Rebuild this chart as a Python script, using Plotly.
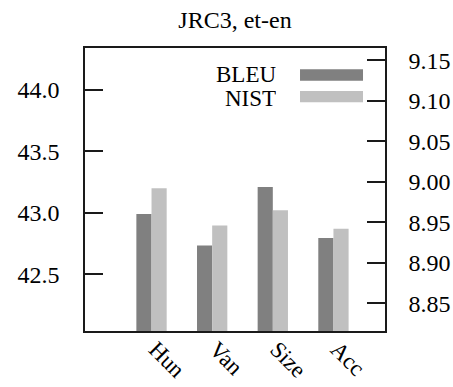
import plotly.graph_objects as go

# Systems compared and their scores
systems = ["Hun", "Van", "Size", "Acc"]
bleu = [42.99, 42.735, 43.21, 42.795]
nist = [8.992, 8.946, 8.965, 8.942]

series_names = ["BLEU", "NIST"]
series_colors = ["#808080", "#c0c0c0"]

bleu_ticks = [42.5, 43.0, 43.5, 44.0]
nist_ticks = [8.85, 8.90, 8.95, 9.00, 9.05, 9.10, 9.15]

title_text = "JRC3, et-en"

FONT = "Liberation Serif"
AXIS_COLOR = "#1a1a1a"
BAR_W = 0.25

xs = list(range(len(systems)))

fig = go.Figure()
fig.add_trace(go.Bar(
    x=xs, y=bleu, name=series_names[0], yaxis="y",
    width=BAR_W, offset=-BAR_W, marker=dict(color=series_colors[0], line=dict(width=0)),
    showlegend=False,
))
fig.add_trace(go.Bar(
    x=xs, y=nist, name=series_names[1], yaxis="y2",
    width=BAR_W, offset=0, marker=dict(color=series_colors[1], line=dict(width=0)),
    showlegend=False,
))

# Key drawn in the upper right of the frame: label + wide swatch
key_rows = [(0.9070, 0.8845, 0.9247), (0.8230, 0.8081, 0.8481)]
for name, color, (ty, y0, y1) in zip(series_names, series_colors, key_rows):
    fig.add_shape(type="rect", xref="paper", yref="paper",
                  x0=0.7167, x1=0.9267, y0=y0, y1=y1,
                  fillcolor=color, line=dict(width=0))
    fig.add_annotation(xref="paper", yref="paper", x=0.6423, y=ty,
                       text=name, showarrow=False, xanchor="right", yanchor="middle",
                       height=22, valign="middle",
                       font=dict(family=FONT, size=23, color="black"))

fig.update_layout(
    width=453, height=387,
    margin=dict(l=85, r=68, t=48, b=56, autoexpand=False),
    paper_bgcolor="white", plot_bgcolor="white",
    barmode="overlay",
    font=dict(family=FONT, size=24, color="black"),
    title=dict(text=title_text, x=0.5, xref="paper", xanchor="center",
               y=1 - 20 / 387, yref="container", yanchor="middle",
               font=dict(family=FONT, size=24, color="black")),
    xaxis=dict(
        range=[-1.097, 3.85], tickvals=xs, ticktext=systems, tickangle=45,
        ticks="", showgrid=False, zeroline=False, automargin=False,
        showline=True, mirror=True, linecolor=AXIS_COLOR, linewidth=1.5,
        ticklabelstandoff=-6, ticklabelshift=4,
        tickfont=dict(family=FONT, size=23, color="black"),
    ),
    yaxis=dict(
        range=[42.04, 44.34], tickvals=bleu_ticks, tickformat=".1f",
        ticks="inside", ticklen=18, tickwidth=1.5, tickcolor=AXIS_COLOR,
        showgrid=False, zeroline=False, automargin=False,
        showline=True, mirror=True, linecolor=AXIS_COLOR, linewidth=1.5,
        ticklabelstandoff=19,
        tickfont=dict(family=FONT, size=24, color="black"),
    ),
    yaxis2=dict(
        range=[8.816, 9.165], tickvals=nist_ticks, tickformat=".2f",
        overlaying="y", side="right", automargin=False,
        ticks="inside", ticklen=18, tickwidth=1.5, tickcolor=AXIS_COLOR,
        showgrid=False, zeroline=False,
        showline=True, linecolor=AXIS_COLOR, linewidth=1.5,
        ticklabelstandoff=17,
        tickfont=dict(family=FONT, size=24, color="black"),
    ),
)

fig.write_html("out.html")
